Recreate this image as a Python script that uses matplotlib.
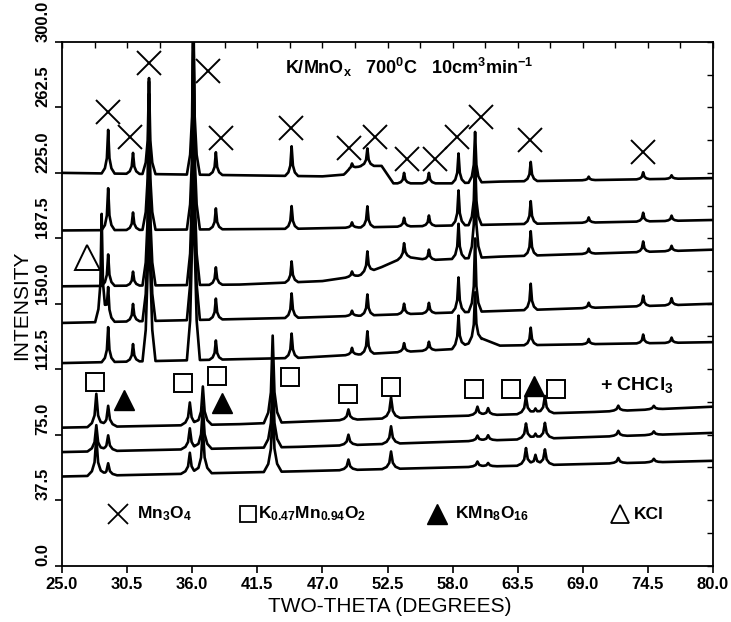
import numpy as np
import matplotlib
matplotlib.use("Agg")
import matplotlib.pyplot as plt

plt.rcParams["font.family"] = ["Liberation Sans", "DejaVu Sans"]
plt.rcParams["mathtext.fontset"] = "custom"
plt.rcParams["mathtext.rm"] = "Liberation Sans:bold"
plt.rcParams["mathtext.it"] = "Liberation Sans:bold"
plt.rcParams["mathtext.bf"] = "Liberation Sans:bold"

x_ticks = [25.0, 30.5, 36.0, 41.5, 47.0, 52.5, 58.0, 63.5, 69.0, 74.5, 80.0]
y_ticks = [0.0, 37.5, 75.0, 112.5, 150.0, 187.5, 225.0, 262.5, 300.0]

# peak positions (two-theta) of the five upper scans: KCl, then Mn3O4
upper_peaks = [28.35, 28.9, 31.0, 32.35, 36.1, 38.0, 44.4, 49.5, 50.8,
               53.9, 56.0, 58.5, 59.9, 64.6, 69.5, 74.1, 76.5]
# peak heights above background, top scan first
h1 = [0, 25, 12, 55, 95, 13, 17, 3, 10, 6, 6, 17, 29, 11, 2, 4, 2]
h2 = [0, 24, 10, 85, 120, 12, 13, 3, 12, 5, 6, 20, 40, 13, 3, 5, 3]
h3 = [0, 18, 8, 110, 150, 10, 12, 3, 12, 8, 6, 20, 55, 14, 3, 6, 3]
h4 = [62, 20, 10, 130, 170, 12, 14, 3, 12, 6, 6, 20, 42, 15, 3, 6, 4]
h5 = [0, 20, 10, 150, 190, 11, 14, 4, 13, 5, 5, 18, 28, 10, 3, 5, 3]

# background of the upper scans
bg1_x = [25, 47, 48.8, 49.3, 50.3, 52.0, 53.0, 58, 62, 80]
bg1_y = [225, 223, 224, 227, 229, 229, 219, 219, 220, 222]
bg2_x = [25, 45, 80]
bg2_y = [192, 193, 198]
bg3_x = [25, 40, 47, 50, 52, 54, 56, 62, 80]
bg3_y = [160, 161, 163, 166, 171, 177, 175, 177, 181]
bg4_x = [25, 45, 80]
bg4_y = [139, 142, 150]
bg5_x = [25, 45, 58, 60.5, 62, 80]
bg5_y = [116, 119, 124, 130, 126, 128]

# lower three scans (+ CHCl3)
lower_peaks = [27.9, 28.9, 35.8, 36.9, 42.8, 49.2, 52.8, 60.1, 61.0,
               64.2, 65.0, 65.8, 72.0, 75.0]
h6 = [19, 12, 13, 22, 50, 6, 12, 5, 4, 10, 3, 10, 3, 2]
h7 = [15, 9, 12, 24, 40, 6, 10, 3, 3, 9, 3, 9, 3, 2]
h8 = [22, 7, 12, 26, 38, 6, 10, 3, 2, 10, 6, 9, 3, 2]
bg6_x = [25, 40, 55, 70, 80]
bg6_y = [79, 81, 85, 88, 91]
bg7_x = [25, 45, 80]
bg7_y = [65, 68, 76]
bg8_x = [25, 45, 80]
bg8_y = [51, 54, 60]

# phase markers
mn_x = [28.9, 30.75, 32.35, 37.36, 38.43, 44.35, 49.25, 51.45, 54.12,
        56.5, 58.35, 60.4, 64.55, 74.1]
mn_y = [259.6, 245.4, 288, 283.6, 244.9, 251, 239.5, 245.8, 233,
        233, 245.5, 257.3, 243.6, 236.7]
sq_x = [27.79, 35.22, 38.1, 44.26, 49.16, 52.8, 59.81, 62.94, 66.74]
sq_y = [105.0, 104.5, 108.5, 107.9, 98.2, 102.2, 101.1, 101.1, 101.1]
tri_x = [30.24, 38.52, 64.88]
tri_y = [94.7, 93.0, 102.7]
kcl_x = [27.1]
kcl_y = [177]


def build_trace(bg_x, bg_y, peaks, heights, w):
    offs = np.array([-1, -0.5, -0.2, 0, 0.2, 0.5, 1.0]) * w
    frac = np.array([0, 0.12, 0.35, 1, 0.35, 0.12, 0])
    xs = list(bg_x)
    for p, h in zip(peaks, heights):
        if h > 0:
            xs.extend(p + offs)
    xs = np.unique(np.clip(xs, 25, 80))
    ys = np.interp(xs, bg_x, bg_y)
    for p, h in zip(peaks, heights):
        if h > 0:
            ys = ys + np.interp(xs, p + offs, frac * h, left=0, right=0)
    return xs, ys


fig = plt.figure(figsize=(7.31, 6.22), dpi=100)
ax = fig.add_axes([62 / 731, 1 - 565.5 / 622, 651 / 731, 523.5 / 622])

upper = [(bg1_x, bg1_y, h1), (bg2_x, bg2_y, h2), (bg3_x, bg3_y, h3),
         (bg4_x, bg4_y, h4), (bg5_x, bg5_y, h5)]
for bx, by, hh in upper:
    xs, ys = build_trace(bx, by, upper_peaks, hh, 0.55)
    ax.plot(xs, ys, color="black", lw=1.9, solid_joinstyle="round")

lower = [(bg6_x, bg6_y, h6), (bg7_x, bg7_y, h7), (bg8_x, bg8_y, h8)]
for bx, by, hh in lower:
    xs, ys = build_trace(bx, by, lower_peaks, hh, 0.75)
    ax.plot(xs, ys, color="black", lw=1.9, solid_joinstyle="round")

ax.plot(mn_x, mn_y, ls="none", marker="x", ms=17, mew=1.4, color="black")
ax.plot(sq_x, sq_y, ls="none", marker="s", ms=13, mew=1.4, mfc="white", color="black")
ax.plot(tri_x, tri_y, ls="none", marker="^", ms=15, color="black")
ax.plot(kcl_x, kcl_y, ls="none", marker="^", ms=18, mew=1.4, mfc="white", color="black")

# legend row
ly = 29.5
ax.plot([29.73], [ly], marker="x", ms=14, mew=1.3, color="black")
ax.text(31.34, ly, "Mn$_3$O$_4$", fontsize=12.5, fontweight="bold", va="center")
ax.plot([40.71], [ly], marker="s", ms=12, mew=1.3, mfc="white", color="black")
ax.text(41.56, ly, "K$_{0.47}$Mn$_{0.94}$O$_2$", fontsize=12.5, fontweight="bold", va="center")
ax.plot([56.68], [ly], marker="^", ms=15, color="black")
ax.text(58.2, ly, "KMn$_8$O$_{16}$", fontsize=12.5, fontweight="bold", va="center")
ax.plot([72.14], [ly], marker="^", ms=13, mew=1.3, mfc="white", color="black")
ax.text(73.33, ly, "KCl", fontsize=12.5, fontweight="bold", va="center")

ax.text(43.84, 285.3, "K/MnO$_x$   700$^0$C   10cm$^3$min$^{-1}$",
        fontsize=13, fontweight="bold", va="center")
ax.text(70.45, 103.3, "+ CHCl$_3$", fontsize=14, fontweight="bold", va="center")

ax.set_xlim(25, 80)
ax.set_ylim(0, 300)
ax.set_xticks(x_ticks)
ax.set_xticklabels(["%.1f" % v for v in x_ticks])
ax.set_xticks(np.arange(25, 80.01, 2.75), minor=True)
ax.set_yticks(y_ticks)
ax.set_yticklabels(["%.1f" % v for v in y_ticks])
ax.set_yticks(np.arange(0, 300.01, 18.75), minor=True)
ax.xaxis.remove_overlapping_locs = False
ax.yaxis.remove_overlapping_locs = False

ax.tick_params(which="major", direction="out", length=5, width=1.2,
               top=False, right=False, labelsize=12)
ax.tick_params(which="minor", direction="in", length=4, width=1.0,
               top=True, right=True, bottom=False, left=False)
for lab in ax.get_xticklabels() + ax.get_yticklabels():
    lab.set_fontweight("bold")
plt.setp(ax.get_yticklabels(), rotation=90, va="bottom")
for sp in ax.spines.values():
    sp.set_linewidth(1.3)

fig.text(390 / 731, 1 - 606 / 622, "TWO-THETA (DEGREES)", fontsize=15,
         ha="center", va="center")
fig.text(22 / 731, 1 - 305 / 622, "INTENSITY", fontsize=15, rotation=90,
         ha="center", va="center")

fig.savefig("out.png", dpi=100)
